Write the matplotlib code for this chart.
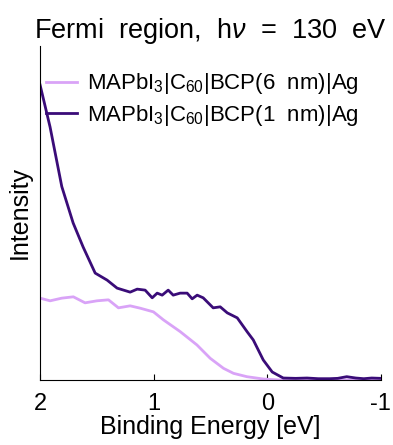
import matplotlib.pyplot as plt
import numpy as np

plt.rcParams['font.family'] = ['Liberation Sans', 'DejaVu Sans']
plt.rcParams['mathtext.fontset'] = 'custom'
plt.rcParams['mathtext.rm'] = 'Liberation Sans'
plt.rcParams['mathtext.it'] = 'Liberation Sans:italic'

# BCP(1 nm) - dark
e_thin = [2.00, 1.912, 1.809, 1.709, 1.621, 1.515, 1.410, 1.322, 1.207, 1.145,
          1.075, 1.013, 0.969, 0.925, 0.872, 0.828, 0.767, 0.705, 0.661, 0.617,
          0.564, 0.476, 0.414, 0.352, 0.264, 0.176, 0.123, 0.035, -0.044, -0.141,
          -0.25, -0.35, -0.45, -0.55, -0.62, -0.70, -0.78, -0.85, -0.92, -1.0]
i_thin = [0.883, 0.757, 0.579, 0.470, 0.398, 0.320, 0.299, 0.275, 0.263, 0.272,
          0.269, 0.246, 0.260, 0.254, 0.269, 0.254, 0.260, 0.260, 0.243, 0.254,
          0.246, 0.216, 0.219, 0.201, 0.186, 0.144, 0.120, 0.060, 0.024, 0.006,
          0.005, 0.006, 0.004, 0.004, 0.005, 0.010, 0.006, 0.004, 0.006, 0.005]

# BCP(6 nm) - light
e_thick = [2.00, 1.912, 1.809, 1.707, 1.604, 1.500, 1.398, 1.310, 1.207, 1.119,
           1.002, 0.914, 0.767, 0.619, 0.502, 0.385, 0.297, 0.179, 0.033, -0.115,
           -0.4, -0.7, -1.0]
i_thick = [0.245, 0.237, 0.245, 0.249, 0.231, 0.237, 0.240, 0.216, 0.222, 0.215,
           0.204, 0.180, 0.145, 0.105, 0.065, 0.035, 0.020, 0.010, 0.003, 0.0,
           0.0, 0.0, 0.0]

labels = [r'MAPbI$_3$|C$_{60}$|BCP(6  nm)|Ag', r'MAPbI$_3$|C$_{60}$|BCP(1  nm)|Ag']

fig = plt.figure(figsize=(3.93, 4.45), dpi=100)
ax = fig.add_axes([0.102, 0.146, 0.867, 0.751])

ax.plot(e_thick, i_thick, color='#D9A3F7', lw=2.0, label=labels[0])
ax.plot(e_thin, i_thin, color='#3A0C78', lw=2.0, label=labels[1])

ax.set_xlim(2, -1)
ax.set_ylim(0, 1)
ax.set_xticks([2, 1, 0, -1])
ax.set_xticklabels(['2', '1', '0', '-1'])
ax.set_yticks([])
ax.tick_params(axis='x', direction='in', length=4, labelsize=17, pad=9)
ax.spines['top'].set_visible(False)
ax.spines['right'].set_visible(False)

ax.set_xlabel('Binding Energy [eV]', fontsize=18, labelpad=0)
ax.set_ylabel('Intensity', fontsize=18, labelpad=6)
ax.set_title(r'Fermi  region,  h$\it{\nu}$  =  130  eV', fontsize=19.5, pad=6)

ax.legend(loc='upper left', bbox_to_anchor=(-0.01, 0.95), frameon=False,
          fontsize=16, handlelength=1.4, handletextpad=0.45, labelspacing=0.3,
          borderaxespad=0)

fig.savefig('out.png', dpi=100)
